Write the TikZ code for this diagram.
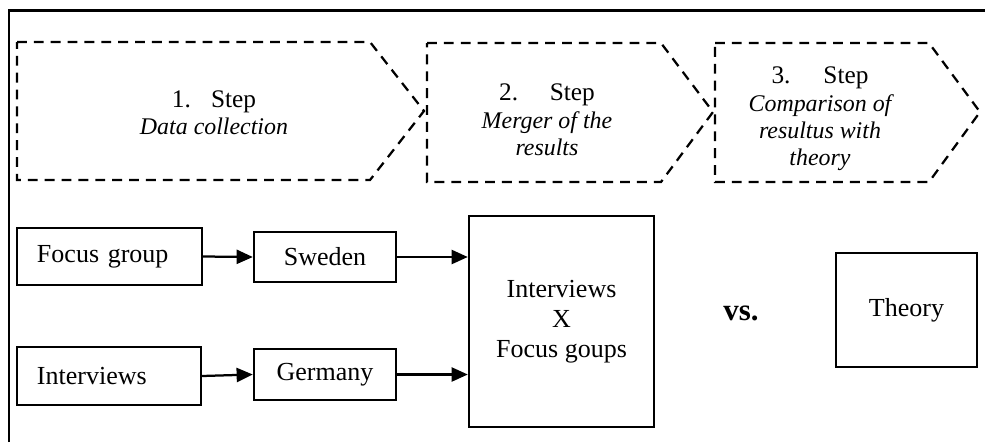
\documentclass[tikz,border=0pt]{standalone}
\usepackage{fontspec}
\setmainfont{Liberation Serif}
\usetikzlibrary{arrows.meta}

\begin{document}
\begin{tikzpicture}[x=0.025cm, y=-0.025cm,
        >={Triangle[length=11.5pt,width=10pt]},
        box/.style={draw, line width=1.7pt, inner sep=0pt, font=\fontsize{18.5}{21.5}\selectfont},
        stepbox/.style={draw, line width=1.6pt, dash pattern=on 7pt off 5pt},
        steptext/.style={align=center, font=\fontsize{17}{19.5}\selectfont\itshape}]
        \useasboundingbox (0,0) rectangle (985,442);

        % Frame
        \draw[line width=2.1pt] (9,442) -- (9,10.7) -- (985,10.7);

        % Define the three steps
        \draw[stepbox] (17,42) -- (370,42) -- (424,111) -- (370,180) -- (17,180) -- cycle;
        \draw[stepbox] (427,43) -- (661,43) -- (713,112) -- (661,182) -- (427,182) -- cycle;
        \draw[stepbox] (715,43) -- (929,43) -- (980,112) -- (929,182) -- (715,182) -- cycle;

        \node at (214, 113) (step1) [steptext] {{\fontsize{18}{19.5}\selectfont\upshape 1.\hspace{0.8em}Step}\\Data collection};
        \node at (547, 120) (step2) [steptext] {{\fontsize{18}{19.5}\selectfont\upshape 2.\hspace{1.25em}Step}\\Merger of the\\results};
        \node at (820, 119) (step3) [steptext] {{\fontsize{18}{19.5}\selectfont\upshape 3.\hspace{1.3em}Step}\\Comparison of\\resultus with\\theory};

        % Define nodes for the data
        \node at (109.5, 256.5) (focus) [box, minimum height=1.425cm, text width=3.625cm, inner xsep=0.5cm, align=left] {Focus group};
        \node at (109, 376) (interviews) [box, minimum height=1.45cm, text width=3.6cm, inner xsep=0.5cm, align=left] {Interviews};
        \node at (325, 257) (sweden) [box, minimum width=3.55cm, minimum height=1.25cm] {Sweden};
        \node at (325, 374.5) (germany) [box, minimum width=3.55cm, minimum height=1.275cm] {Germany};
        \node at (561.5, 321.5) (merge) [box, minimum width=4.625cm, minimum height=5.275cm, align=center] {Interviews\\X\\Focus goups};
        \node at (741, 313) (vs) [font=\fontsize{22}{26}\selectfont\bfseries] {vs.};
        \node at (906.5, 310) (theory) [box, minimum width=3.525cm, minimum height=2.85cm] {Theory};

        % Draw edges
        \draw[->, line width=1.6pt] (focus.east) -- (sweden.west);
        \draw[->, line width=1.6pt] (interviews.east) -- (germany.west);
        \draw[->, line width=1.6pt] (sweden.east) -- (sweden.east -| merge.west);
        \draw[->, line width=1.6pt] (germany.east) -- (germany.east -| merge.west);
    \end{tikzpicture}
\end{document}
